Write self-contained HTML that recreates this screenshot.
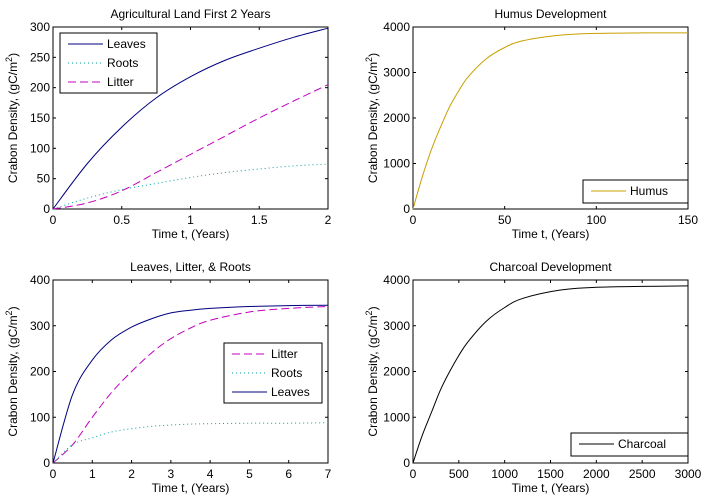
<!DOCTYPE html>
<html><head><meta charset="utf-8"><style>
body{margin:0;background:#fff}
svg{display:block}
text{font-family:"Liberation Sans",Arial,sans-serif;font-size:12px;fill:#000}
</style></head><body>
<svg id="c" width="704" height="502"></svg>
<script>
// Panel 1: Agricultural Land First 2 Years
const p1T=[0,0.25,0.5,0.75,1,1.25,1.5,1.75,2];
const p1Leaves=[0,75,135,183,218,245,265,283,298];
const p1Roots=[0,18,32,42,52,60,66,71,74];
const p1Litter=[0,10,30,60,90,120,150,178,205];
const p1XTicks=[0,0.5,1,1.5,2];const p1YTicks=[0,50,100,150,200,250,300];
// Panel 2: Humus
const p2T=[0,5,10,15,20,25,30,40,50,60,80,100,125,150];
const p2Humus=[0,700,1300,1800,2250,2600,2900,3300,3550,3700,3820,3860,3870,3870];
const p2XTicks=[0,50,100,150];const p2YTicks=[0,1000,2000,3000,4000];
// Panel 3: Leaves, Litter, Roots
const p3T=[0,0.5,1,1.5,2,2.5,3,3.5,4,5,6,7];
const p3Leaves=[0,150,225,270,297,315,328,334,338,342,344,345];
const p3Litter=[0,40,100,155,200,240,272,295,312,330,338,342];
const p3Roots=[0,40,55,68,75,80,83,85,86,87,87,88];
const p3XTicks=[0,1,2,3,4,5,6,7];const p3YTicks=[0,100,200,300,400];
// Panel 4: Charcoal
const p4T=[0,100,200,300,400,500,600,800,1000,1200,1600,2000,2500,3000];
const p4Charcoal=[0,600,1100,1600,2000,2350,2650,3100,3400,3600,3780,3840,3860,3870];
const p4XTicks=[0,500,1000,1500,2000,2500,3000];const p4YTicks=[0,1000,2000,3000,4000];

const svg=document.getElementById('c');const NS='http://www.w3.org/2000/svg';
function mk(tag,attrs,parent,txt){const e=document.createElementNS(NS,tag);for(const k in attrs)e.setAttribute(k,attrs[k]);if(txt!==undefined)e.textContent=txt;(parent||svg).appendChild(e);return e;}
const LEAF='#00007f',ROOT='#00a0a0',LIT='#c000c0',HUM='#c8a000',CH='#000';
const styles={solid:'',dot:'1,3',dash:'8,4'};
function smooth(pts){let d='M'+pts[0][0].toFixed(1)+','+pts[0][1].toFixed(1);
  for(let i=0;i<pts.length-1;i++){const p0=pts[Math.max(0,i-1)],p1=pts[i],p2=pts[i+1],p3=pts[Math.min(pts.length-1,i+2)];
    const c1=[p1[0]+(p2[0]-p0[0])/6,p1[1]+(p2[1]-p0[1])/6],c2=[p2[0]-(p3[0]-p1[0])/6,p2[1]-(p3[1]-p1[1])/6];
    d+='C'+c1.map(v=>v.toFixed(1)).join(',')+' '+c2.map(v=>v.toFixed(1)).join(',')+' '+p2.map(v=>v.toFixed(1)).join(',');}
  return d;}
function panel(name,x0,y0,w,h,xmax,ymax,xt,yt,title,series,leg){
  const g=mk('g',{},svg);
  
  const X=v=>x0+v/xmax*w,Y=v=>y0+h-v/ymax*h;
  mk('rect',{x:x0,y:y0,width:w,height:h,fill:'#fff',stroke:'#000','stroke-width':1},g);
  xt.forEach(v=>{const x=X(v);mk('line',{x1:x,x2:x,y1:y0+h,y2:y0+h-3,stroke:'#000'},g);mk('line',{x1:x,x2:x,y1:y0,y2:y0+3,stroke:'#000'},g);
    const t=mk('text',{x:x,y:y0+h+15,'text-anchor':'middle'},g,String(v));});
  yt.forEach(v=>{const y=Y(v);mk('line',{x1:x0,x2:x0+3,y1:y,y2:y,stroke:'#000'},g);mk('line',{x1:x0+w,x2:x0+w-3,y1:y,y2:y,stroke:'#000'},g);
    const t=mk('text',{x:x0-3,y:y+4,'text-anchor':'end'},g,String(v));});
  const tt=mk('text',{x:x0+w/2,y:y0-9,'text-anchor':'middle'},g,title);
  const xl=mk('text',{x:x0+w/2,y:y0+h+29,'text-anchor':'middle'},g,'Time t, (Years)');
  const yl=mk('text',{transform:`translate(${x0-36},${y0+h/2}) rotate(-90)`,'text-anchor':'middle'},g);
  
  mk('tspan',{},yl,'Crabon Density, (gC/m');mk('tspan',{dy:-5,'font-size':'9px'},yl,'2');mk('tspan',{dy:5},yl,')');
  series.forEach(s=>{const pts=s.t.map((v,i)=>[X(v),Y(s.v[i])]);
    const p=mk('path',{d:smooth(pts),fill:'none',stroke:s.c,'stroke-width':1,'stroke-dasharray':styles[s.s]},g);
    });
  const lg=mk('g',{},g);
  mk('rect',{x:leg.x,y:leg.y,width:leg.w,height:leg.h,fill:'#fff',stroke:'#000'},lg);
  leg.items.forEach((s,i)=>{const y=leg.y+11+i*19;
    mk('line',{x1:leg.x+8,x2:leg.x+43,y1:y,y2:y,stroke:s.c,'stroke-dasharray':styles[s.s]},lg);
    const t=mk('text',{x:leg.x+47,y:y+4},lg,s.n);});
}
const s1=[{n:'Leaves',t:p1T,v:p1Leaves,c:LEAF,s:'solid'},{n:'Roots',t:p1T,v:p1Roots,c:ROOT,s:'dot'},{n:'Litter',t:p1T,v:p1Litter,c:LIT,s:'dash'}];
panel('panel-agricultural',53,27,275,182,2,300,p1XTicks,p1YTicks,'Agricultural Land First 2 Years',s1,{x:60,y:33,w:97,h:60,items:s1});
const s2=[{n:'Humus',t:p2T,v:p2Humus,c:HUM,s:'solid'}];
panel('panel-humus',413,27,275,182,150,4000,p2XTicks,p2YTicks,'Humus Development',s2,{x:583,y:180,w:105,h:23,items:s2});
const s3=[{n:'Litter',t:p3T,v:p3Litter,c:LIT,s:'dash'},{n:'Roots',t:p3T,v:p3Roots,c:ROOT,s:'dot'},{n:'Leaves',t:p3T,v:p3Leaves,c:LEAF,s:'solid'}];
panel('panel-leaves-litter-roots',53,280,275,183,7,400,p3XTicks,p3YTicks,'Leaves, Litter, & Roots',s3,{x:224,y:343,w:98,h:60,items:s3});
const s4=[{n:'Charcoal',t:p4T,v:p4Charcoal,c:CH,s:'solid'}];
panel('panel-charcoal',413,280,275,183,3000,4000,p4XTicks,p4YTicks,'Charcoal Development',s4,{x:571,y:433,w:117,h:23,items:s4});
</script>
</body></html>
